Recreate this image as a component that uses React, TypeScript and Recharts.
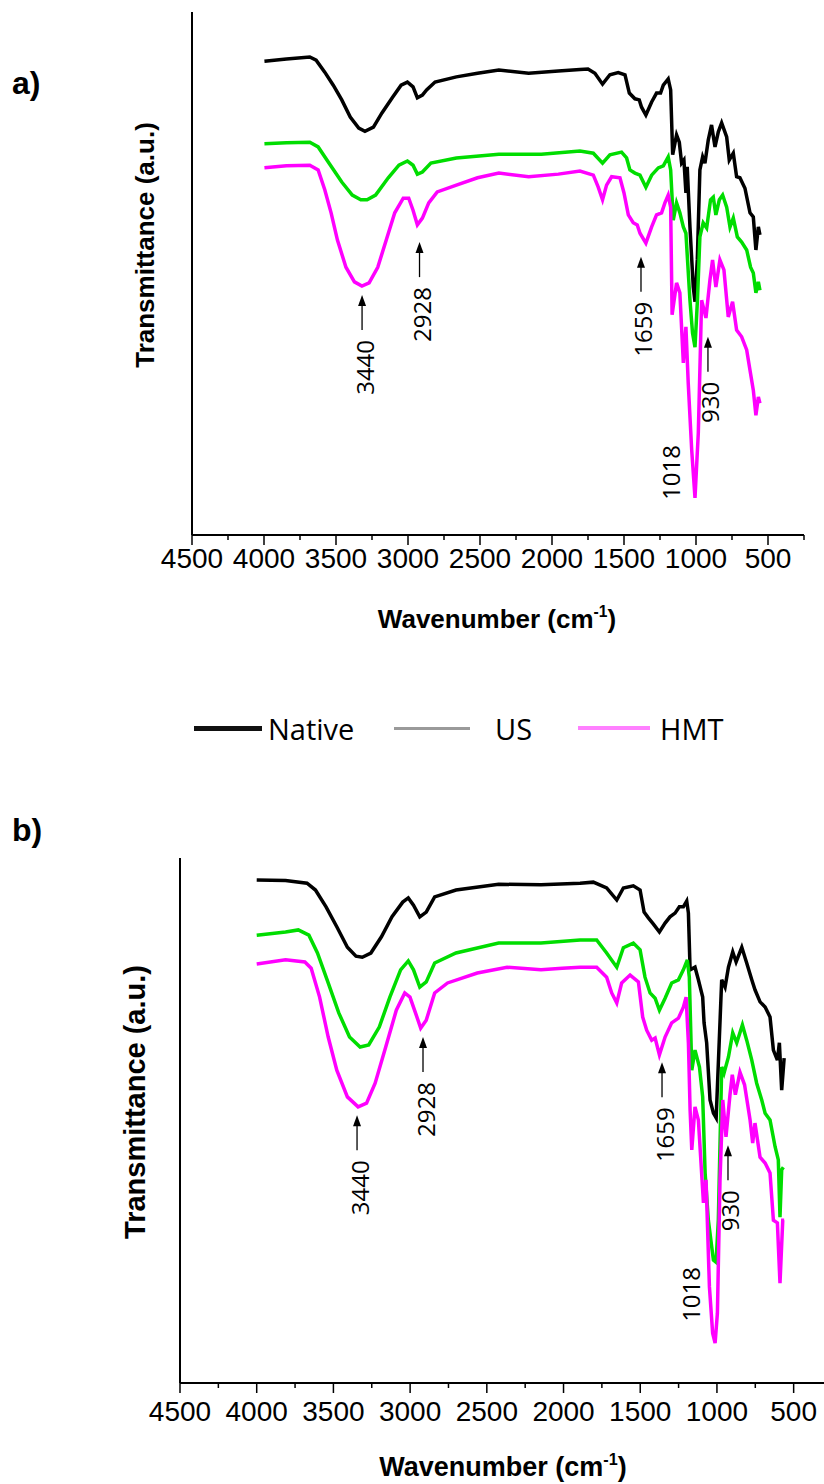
import React from 'react';
import { LineChart, Line, XAxis, YAxis, ReferenceDot } from 'recharts';

// x axis ticks (cm-1), labelled and unlabelled
const majorTicks = [4500, 4000, 3500, 3000, 2500, 2000, 1500, 1000, 500];
const minorTicks = [4250, 3750, 3250, 2750, 2250, 1750, 1250, 750, 250];
const allTicks = [...majorTicks, ...minorTicks].sort((a, b) => b - a);

// panel a) spectra: [wavenumber, transmittance a.u.]
const nativeA: [number, number][] = [
  [3997, 90.6], [3844, 91.0], [3682, 91.4], [3638, 90.8], [3578, 88.5], [3519, 86.0], [3460, 83.2], [3401, 79.9],
  [3342, 77.8], [3299, 77.2], [3240, 78.0], [3181, 80.7], [3107, 83.7], [3048, 86.0], [3004, 86.6], [2965, 85.7],
  [2935, 83.6], [2900, 84.1], [2871, 85.1], [2812, 86.6], [2664, 87.6], [2517, 88.3], [2369, 88.9], [2162, 88.3],
  [1956, 88.7], [1806, 89.0], [1750, 89.1], [1702, 88.3], [1649, 86.2], [1598, 88.0], [1540, 88.4], [1493, 88.0],
  [1463, 84.5], [1424, 83.4], [1394, 83.2], [1378, 81.8], [1348, 80.3], [1308, 82.8], [1274, 84.5], [1246, 84.5],
  [1227, 86.0], [1193, 87.2], [1176, 85.1], [1162, 72.7], [1135, 76.5], [1116, 75.1], [1100, 71.1], [1084, 71.7],
  [1070, 65.4], [1061, 70.4], [1042, 58.9], [1019, 47.4], [1007, 44.6], [991, 52.6], [973, 69.8], [954, 72.3],
  [938, 71.1], [915, 75.5], [892, 78.4], [868, 74.2], [845, 77.1], [822, 78.8], [787, 76.1], [769, 71.7],
  [741, 73.0], [718, 68.5], [695, 68.3], [660, 66.3], [625, 61.6], [602, 60.8], [584, 54.5], [567, 58.9], [556, 57.4],
];
const usA: [number, number][] = [
  [3997, 74.8], [3844, 75.0], [3682, 75.1], [3624, 74.2], [3548, 71.1], [3460, 67.5], [3387, 65.0], [3328, 64.1],
  [3284, 64.1], [3225, 65.0], [3137, 68.3], [3063, 70.7], [3004, 71.5], [2965, 70.7], [2935, 69.0], [2900, 69.4],
  [2841, 71.1], [2664, 72.1], [2369, 72.8], [2074, 72.8], [1806, 73.4], [1713, 73.0], [1649, 71.1], [1598, 72.7],
  [1517, 73.2], [1482, 72.1], [1459, 69.8], [1424, 69.2], [1389, 68.8], [1348, 66.5], [1308, 68.8], [1262, 70.2],
  [1227, 70.6], [1193, 72.3], [1176, 69.8], [1158, 60.2], [1135, 63.5], [1112, 61.6], [1088, 58.9], [1070, 57.7],
  [1042, 44.9], [1024, 38.6], [1007, 35.9], [990, 44.9], [973, 57.0], [950, 59.7], [926, 58.7], [899, 64.1],
  [880, 64.6], [862, 61.2], [838, 64.1], [815, 65.0], [787, 62.7], [764, 58.9], [741, 60.6], [713, 57.0],
  [683, 56.0], [648, 54.5], [621, 51.2], [602, 50.1], [584, 46.3], [567, 48.4], [556, 46.8],
];
const hmtA: [number, number][] = [
  [3997, 70.2], [3844, 70.6], [3682, 70.7], [3624, 69.8], [3578, 66.0], [3534, 61.6], [3490, 56.4], [3431, 51.2],
  [3372, 48.4], [3320, 47.6], [3270, 48.2], [3210, 51.2], [3151, 56.4], [3092, 61.6], [3033, 64.4], [2995, 64.4],
  [2965, 62.1], [2935, 59.3], [2900, 60.6], [2856, 63.5], [2797, 65.6], [2664, 66.9], [2517, 68.3], [2369, 69.2],
  [2162, 68.5], [1956, 69.0], [1806, 69.6], [1713, 68.8], [1679, 66.5], [1649, 64.1], [1621, 66.9], [1586, 68.5],
  [1528, 68.3], [1500, 65.4], [1470, 61.2], [1436, 59.7], [1408, 59.3], [1389, 57.7], [1348, 55.8], [1308, 58.9],
  [1274, 61.2], [1239, 61.6], [1216, 63.5], [1193, 65.0], [1176, 62.7], [1166, 42.1], [1135, 48.2], [1112, 46.3],
  [1088, 32.9], [1070, 39.8], [1054, 29.1], [1030, 16.3], [1007, 7.1], [984, 19.5], [961, 44.9], [931, 41.5],
  [903, 48.8], [885, 52.6], [862, 47.4], [834, 52.6], [806, 50.7], [776, 41.7], [746, 44.6], [718, 39.2],
  [683, 37.9], [648, 35.4], [625, 31.5], [602, 27.7], [584, 22.9], [567, 26.4], [556, 25.2],
];

// panel b) spectra
const nativeB: [number, number][] = [
  [4000, 95.8], [3812, 95.7], [3672, 95.2], [3617, 93.9], [3548, 90.7], [3478, 86.9], [3409, 83.0], [3353, 81.3],
  [3312, 81.1], [3256, 81.9], [3187, 85.0], [3118, 88.8], [3048, 91.6], [3012, 92.4], [2978, 91.0], [2937, 88.8],
  [2895, 89.7], [2840, 92.6], [2701, 93.9], [2423, 95.0], [2147, 94.9], [1892, 95.2], [1806, 95.4], [1719, 94.3],
  [1653, 92.0], [1610, 94.3], [1545, 94.7], [1501, 93.9], [1475, 89.7], [1447, 88.6], [1414, 87.4], [1375, 85.9],
  [1338, 87.6], [1306, 88.8], [1273, 89.5], [1245, 90.7], [1219, 90.7], [1197, 91.8], [1186, 89.5], [1175, 78.7],
  [1143, 79.2], [1121, 76.8], [1093, 73.5], [1084, 68.6], [1067, 64.8], [1045, 53.9], [1023, 51.4], [1005, 50.5],
  [984, 65.9], [969, 76.8], [947, 75.4], [925, 79.2], [897, 82.1], [875, 80.2], [838, 83.0], [806, 80.0],
  [773, 76.8], [752, 74.9], [719, 72.6], [686, 71.6], [654, 69.7], [632, 63.4], [606, 61.5], [593, 64.8],
  [578, 55.8], [562, 61.9],
];
const usB: [number, number][] = [
  [4000, 85.3], [3812, 85.9], [3729, 86.3], [3660, 85.3], [3604, 81.9], [3534, 76.2], [3465, 70.5], [3395, 65.9],
  [3326, 64.0], [3270, 64.4], [3201, 67.8], [3132, 73.5], [3062, 78.7], [3012, 80.4], [2978, 78.7], [2937, 75.4],
  [2895, 76.4], [2840, 80.0], [2701, 81.9], [2423, 83.8], [2147, 83.8], [1892, 84.4], [1784, 84.4], [1719, 81.9],
  [1653, 79.2], [1610, 82.9], [1545, 83.8], [1501, 82.5], [1469, 77.3], [1436, 74.3], [1403, 73.3], [1375, 71.0],
  [1338, 73.3], [1295, 76.2], [1251, 76.8], [1219, 78.7], [1193, 80.6], [1180, 77.3], [1164, 59.6], [1143, 63.4],
  [1114, 60.2], [1093, 54.5], [1077, 40.0], [1056, 31.0], [1023, 23.4], [1006, 23.0], [991, 31.0], [969, 60.2],
  [954, 59.0], [925, 62.1], [897, 66.7], [871, 64.8], [834, 68.2], [806, 65.3], [773, 61.5], [741, 57.1],
  [708, 53.9], [686, 51.4], [654, 50.1], [621, 45.0], [600, 42.5], [589, 31.6], [578, 40.6], [567, 41.1],
];
const hmtB: [number, number][] = [
  [4000, 79.8], [3812, 80.6], [3686, 80.2], [3645, 79.0], [3590, 73.5], [3534, 65.9], [3478, 59.6], [3409, 54.5],
  [3339, 52.6], [3284, 53.3], [3228, 57.1], [3159, 64.0], [3090, 71.0], [3035, 74.3], [3001, 73.5], [2965, 70.5],
  [2931, 67.6], [2895, 69.1], [2840, 74.3], [2756, 76.2], [2562, 78.1], [2368, 79.2], [2147, 78.7], [2008, 79.0],
  [1892, 79.2], [1784, 79.2], [1719, 77.3], [1686, 74.3], [1653, 72.4], [1621, 76.2], [1566, 77.7], [1512, 76.4],
  [1484, 69.7], [1458, 67.2], [1425, 65.3], [1403, 65.7], [1375, 62.5], [1338, 65.9], [1295, 68.6], [1251, 69.5],
  [1219, 71.6], [1201, 73.5], [1186, 64.8], [1175, 52.0], [1164, 44.4], [1143, 52.6], [1121, 50.1], [1088, 34.3],
  [1071, 38.7], [1049, 18.3], [1028, 9.5], [1012, 7.6], [997, 13.3], [980, 38.7], [962, 53.9], [941, 46.9],
  [915, 54.9], [900, 58.7], [880, 54.9], [850, 59.2], [820, 56.8], [784, 50.1], [767, 45.7], [752, 49.5],
  [719, 43.0], [686, 41.9], [654, 40.0], [632, 31.0], [606, 30.5], [589, 19.0], [571, 31.0], [562, 31.0],
];

// peak labels: wavenumber, transmittance of the arrow head
type Note = { label: string; w: number; t: number; arrow: boolean };
const notesA: Note[] = [
  { label: '3440', w: 3319, t: 45.9, arrow: true },
  { label: '2928', w: 2920, t: 56.0, arrow: true },
  { label: '1659', w: 1382, t: 53.2, arrow: true },
  { label: '930', w: 917, t: 37.9, arrow: true },
  { label: '1018', w: 1194, t: 17.2, arrow: false },
];
const notesB: Note[] = [
  { label: '3440', w: 3346, t: 51.0, arrow: true },
  { label: '2928', w: 2916, t: 65.9, arrow: true },
  { label: '1659', w: 1358, t: 61.1, arrow: true },
  { label: '930', w: 928, t: 45.3, arrow: true },
  { label: '1018', w: 1188, t: 22.1, arrow: false },
];

const ARIAL = "'Liberation Sans', Arial, sans-serif";
const SANS = "'Open Sans', 'Noto Sans', sans-serif";

const toRows = (pts: [number, number][]) => pts.map(([w, t]) => ({ w, t }));

const XTick = ({ x, y, payload, labelDy }: any) => {
  const major = majorTicks.includes(payload.value);
  return (
    <g>
      <line x1={x} y1={y} x2={x} y2={y + (major ? 10 : 5)} stroke="#000" strokeWidth={1.5} />
      {major && (
        <text x={x} y={y + labelDy} textAnchor="middle" fontSize={28} fontFamily={ARIAL} fill="#000">
          {payload.value}
        </text>
      )}
    </g>
  );
};

const NoteMark = ({ cx, cy, note }: any) => {
  const shaft = 35;
  const ty = note.arrow ? cy + shaft + 10 : cy;
  return (
    <g>
      {note.arrow && (
        <>
          <path d={`M${cx},${cy} l-4,11 l8,0 z`} fill="#000" />
          <line x1={cx} y1={cy + 10} x2={cx} y2={cy + shaft} stroke="#000" strokeWidth={1.3} />
        </>
      )}
      <text
        transform={`translate(${cx + 2},${ty}) rotate(-90)`}
        textAnchor="end"
        dominantBaseline="central"
        fontSize={24}
        fontFamily={SANS}
        fill="#000"
      >
        {note.label}
      </text>
    </g>
  );
};

type PanelProps = {
  native: [number, number][];
  us: [number, number][];
  hmt: [number, number][];
  notes: Note[];
  width: number;
  height: number;
  left: number;
  labelDy: number;
};

const Panel = ({ native, us, hmt, notes, width, height, left, labelDy }: PanelProps) => (
  <LineChart width={width} height={height} margin={{ top: 12, right: 20, bottom: 0, left: left - 2 }}>
    <XAxis
      type="number"
      dataKey="w"
      domain={[250, 4500]}
      reversed
      allowDataOverflow
      ticks={allTicks}
      interval={0}
      tickLine={false}
      tickSize={0}
      tickMargin={0}
      height={45}
      axisLine={{ stroke: '#000', strokeWidth: 2 }}
      tick={(p: any) => <XTick {...p} labelDy={labelDy} />}
    />
    <YAxis
      type="number"
      domain={[0, 100]}
      width={2}
      tick={false}
      tickLine={false}
      axisLine={{ stroke: '#000', strokeWidth: 2 }}
    />
    <Line data={toRows(native)} dataKey="t" stroke="#000000" strokeWidth={3.5} dot={false} isAnimationActive={false} />
    <Line data={toRows(us)} dataKey="t" stroke="#00dd00" strokeWidth={3.5} dot={false} isAnimationActive={false} />
    <Line data={toRows(hmt)} dataKey="t" stroke="#ff00ff" strokeWidth={3.5} dot={false} isAnimationActive={false} />
    {notes.map((n) => (
      <ReferenceDot
        key={n.label}
        x={n.w}
        y={n.t}
        r={0}
        ifOverflow="visible"
        shape={(p: any) => <NoteMark {...p} note={n} />}
      />
    ))}
  </LineChart>
);

const abs = (style: React.CSSProperties): React.CSSProperties => ({ position: 'absolute', ...style });

const XTitle = ({ x, y, size }: { x: number; y: number; size: number }) => (
  <div style={abs({ left: x, top: y, transform: 'translate(-50%, -50%)', fontFamily: ARIAL, fontWeight: 'bold', fontSize: size, whiteSpace: 'nowrap', lineHeight: 1 })}>
    Wavenumber (cm<sup style={{ fontSize: '0.6em', verticalAlign: '0.7em' }}>-1</sup>)
  </div>
);

const YTitle = ({ x, y, size }: { x: number; y: number; size: number }) => (
  <div style={abs({ left: x, top: y, transform: 'translate(-50%, -50%) rotate(-90deg)', fontFamily: ARIAL, fontWeight: 'bold', fontSize: size, whiteSpace: 'nowrap', lineHeight: 1 })}>
    Transmittance (a.u.)
  </div>
);

const legendItems = [
  { name: 'Native', color: '#111111', thick: 5, x0: 194, x1: 262, tx: 268 },
  { name: 'US', color: '#9a9a9a', thick: 3, x0: 394, x1: 470, tx: 495 },
  { name: 'HMT', color: '#ff80ff', thick: 4, x0: 578, x1: 650, tx: 660 },
];

export default function App() {
  return (
    <div style={abs({ left: 0, top: 0, width: 824, height: 1484, overflow: 'hidden', background: '#fff' })}>
      <div style={abs({ left: 0, top: 0 })}>
        <Panel native={nativeA} us={usA} hmt={hmtA} notes={notesA} width={824} height={580} left={192} labelDy={33} />
      </div>
      <div style={abs({ left: 0, top: 846 })}>
        <Panel native={nativeB} us={usB} hmt={hmtB} notes={notesB} width={852} height={582} left={180} labelDy={38} />
      </div>

      <div style={abs({ left: 12, top: 67, fontFamily: ARIAL, fontWeight: 'bold', fontSize: 32, lineHeight: 1 })}>a)</div>
      <div style={abs({ left: 12, top: 814, fontFamily: ARIAL, fontWeight: 'bold', fontSize: 32, lineHeight: 1 })}>b)</div>

      <YTitle x={145} y={245} size={26} />
      <YTitle x={135} y={1102} size={29} />
      <XTitle x={497} y={618} size={26} />
      <XTitle x={503} y={1466} size={27} />

      {legendItems.map((it) => (
        <React.Fragment key={it.name}>
          <div style={abs({ left: it.x0, top: 728 - it.thick / 2, width: it.x1 - it.x0, height: it.thick, background: it.color })} />
          <div style={abs({ left: it.tx, top: 728, transform: 'translateY(-50%)', fontFamily: SANS, fontSize: 29, lineHeight: 1 })}>
            {it.name}
          </div>
        </React.Fragment>
      ))}
    </div>
  );
}
